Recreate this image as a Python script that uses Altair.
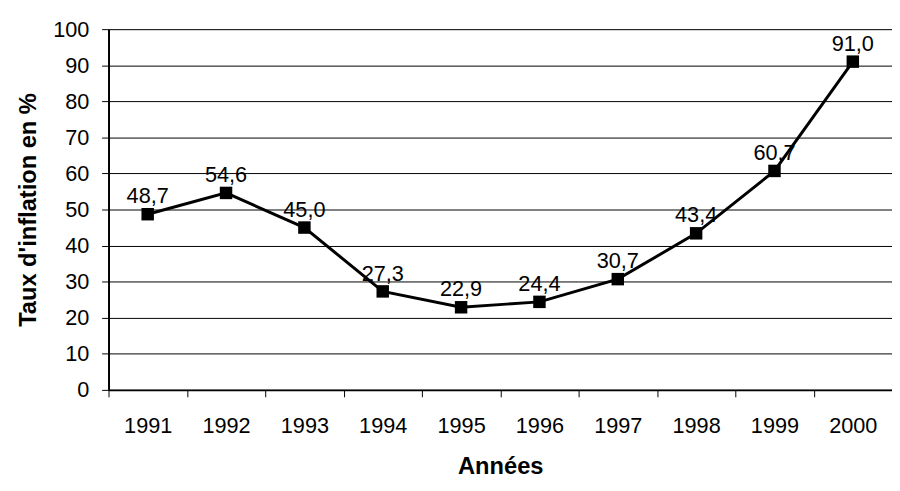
import altair as alt
import pandas as pd

years = ["1991", "1992", "1993", "1994", "1995", "1996", "1997", "1998", "1999", "2000"]
inflation = [48.7, 54.6, 45.0, 27.3, 22.9, 24.4, 30.7, 43.4, 60.7, 91.0]
labels = [f"{v:.1f}".replace(".", ",") for v in inflation]

df = pd.DataFrame({"year": years, "value": inflation, "label": labels})

FONT = "Liberation Sans"
FS = 22
TS = 24

x = alt.X("year:O", title="Années",
          scale=alt.Scale(type="band", paddingInner=0, paddingOuter=0),
          axis=alt.Axis(labelAngle=0, tickBand="extent", labelFontSize=FS, labelFont=FONT,
                        labelColor="black", labelPadding=19, tickSize=7, tickColor="black",
                        tickWidth=1, domainColor="black", domainWidth=2,
                        titleFontSize=TS, titleFont=FONT, titleFontWeight="bold",
                        titleColor="black", titlePadding=19, grid=False))
y = alt.Y("value:Q", title="Taux d'inflation en %",
          scale=alt.Scale(domain=[0, 100], nice=False),
          axis=alt.Axis(values=list(range(0, 101, 10)), labelFontSize=FS, labelFont=FONT,
                        labelColor="black", labelPadding=13, tickSize=7, tickColor="black",
                        domainColor="black", domainWidth=2, grid=True, gridColor="black",
                        gridWidth=1, titleFontSize=TS, titleFont=FONT, titleFontWeight="bold",
                        titleColor="black", titlePadding=12))

base = alt.Chart(df).encode(x=x, y=y)
line = base.mark_line(color="black", strokeWidth=3)
pts = base.mark_point(shape="square", filled=True, color="black", size=160, opacity=1)
txt = base.mark_text(font=FONT, fontSize=FS, color="black", dy=-11, baseline="alphabetic").encode(text="label:N")

chart = (line + pts + txt).properties(
    width=795, height=366,
    autosize=alt.AutoSizeParams(type="none"),
    padding={"left": 102, "top": 18, "right": 0, "bottom": 90},
).configure_view(stroke=None).configure(background="white")

chart.save("out.html", embed_options={"renderer": "svg", "actions": False})
